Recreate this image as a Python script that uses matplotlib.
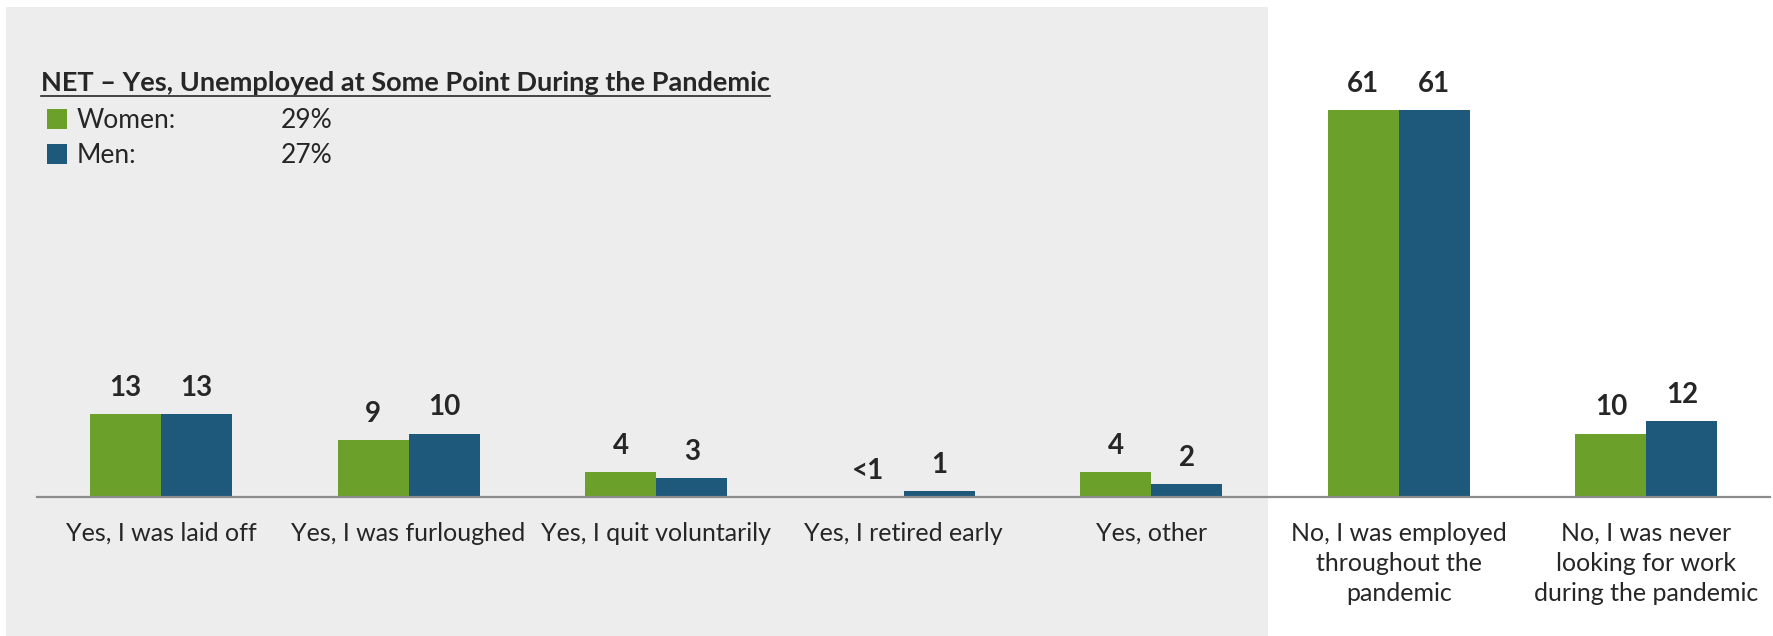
import matplotlib
matplotlib.use("Agg")
import matplotlib.pyplot as plt
import numpy as np
from matplotlib.patches import Rectangle
from matplotlib.lines import Line2D

# data
categories = ["Yes, I was laid off", "Yes, I was furloughed", "Yes, I quit voluntarily",
              "Yes, I retired early", "Yes, other",
              "No, I was employed\nthroughout the\npandemic",
              "No, I was never\nlooking for work\nduring the pandemic"]
women = [13, 9, 4, 0, 4, 61, 10]
men = [13, 10, 3, 1, 2, 61, 12]
women_labels = ["13", "9", "4", "<1", "4", "61", "10"]
men_labels = ["13", "10", "3", "1", "2", "61", "12"]
net_title = "NET \u2013 Yes, Unemployed at Some Point During the Pandemic"
net_women = "29%"
net_men = "27%"

green = "#6BA02A"
blue = "#1E587B"
txt = "#262626"

plt.rcParams['font.family'] = ['Lato', 'DejaVu Sans']

fig = plt.figure(figsize=(17.73, 6.36), dpi=100)
W, H = 1773, 636

# grey panel behind the "yes" answers
fig.patches.append(Rectangle((6 / W, 0), (1268 - 6) / W, (H - 7) / H,
                             transform=fig.transFigure, facecolor="#EDEDED",
                             edgecolor="none", zorder=-5))

ax = fig.add_axes([37.2 / W, 139 / H, 1733 / W, 444.5 / H])
ax.set_zorder(2)
ax.patch.set_visible(False)

x = np.arange(len(categories))
bw = 0.287
ax.bar(x - bw / 2, women, bw, color=green, zorder=2)
ax.bar(x + bw / 2, men, bw, color=blue, zorder=2)

for i in range(len(x)):
    ax.annotate(women_labels[i], (x[i] - bw / 2, women[i]), xytext=(0, 13),
                textcoords="offset points", ha="center", va="baseline",
                fontsize=20, fontweight="bold", color=txt)
    ax.annotate(men_labels[i], (x[i] + bw / 2, men[i]), xytext=(0, 13),
                textcoords="offset points", ha="center", va="baseline",
                fontsize=20, fontweight="bold", color=txt)

ax.set_xlim(-0.5, 6.5)
ax.set_ylim(0, 70)
for s in ["top", "right", "left"]:
    ax.spines[s].set_visible(False)
ax.spines["bottom"].set_color("#8C8C8C")
ax.spines["bottom"].set_linewidth(1.6)
ax.set_yticks([])
ax.set_xticks(x)
ax.set_xticklabels(categories, fontsize=18, color=txt, linespacing=1.38, va="top")
ax.tick_params(axis="x", length=0, pad=18)

# NET block
t = fig.text(41 / W, 1 - 91 / H, net_title, fontsize=19.5, fontweight="bold",
             color=txt, va="baseline", ha="left", zorder=3)
fig.canvas.draw()
bb = t.get_window_extent()
fig.lines.append(Line2D([bb.x0 / W, bb.x1 / W], [1 - 96 / H, 1 - 96 / H],
                        transform=fig.transFigure, color=txt, linewidth=1.2))

rows = [(green, "Women:", net_women, 128), (blue, "Men:", net_men, 163)]
for col, name, val, base in rows:
    fig.patches.append(Rectangle((47 / W, 1 - (base + 1) / H), 20 / W, 20 / H,
                                 transform=fig.transFigure, facecolor=col,
                                 edgecolor="none"))
    fig.text(77 / W, 1 - base / H, name, fontsize=19, color=txt, va="baseline")
    fig.text(281 / W, 1 - base / H, val, fontsize=19, color=txt, va="baseline")

fig.savefig("out.png", dpi=100)
